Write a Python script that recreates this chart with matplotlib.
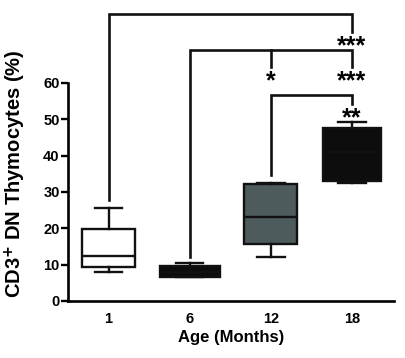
import matplotlib
matplotlib.use("Agg")
import matplotlib.pyplot as plt

plt.rcParams['font.family'] = ['Liberation Sans', 'DejaVu Sans']
plt.rcParams['font.weight'] = 'bold'

# data (box stats per age group)
ages = ["1", "6", "12", "18"]
whisker_low = [8.1, 6.5, 12.2, 32.5]
q1 = [9.4, 6.7, 15.7, 33.0]
medians = [12.4, 8.0, 23.0, 41.0]
q3 = [19.7, 9.7, 32.2, 47.5]
whisker_high = [25.7, 10.4, 32.6, 49.3]
box_colors = ["white", "#0d0d0d", "#4e5b5d", "#0d0d0d"]

# significance brackets: left group, right group, left leg start, top, right leg end, label
br_left = [0, 1, 2]
br_right = [3, 3, 3]
br_start = [27.8, 12.2, 34.6]
br_top = [79.1, 69.2, 56.8]
br_end = [74.0, 64.4, 54.3]
br_labels = ["***", "***", "**"]
# extra tick on the 6-vs-18 bracket, at 12 months
mid_group = 2
mid_label = "*"

fig = plt.figure(figsize=(4.05, 3.58), dpi=100)
ax = fig.add_axes([68/405, 57/358, 326/405, 298/358])

stats = []
for i in range(len(ages)):
    stats.append(dict(whislo=whisker_low[i], q1=q1[i], med=medians[i],
                      q3=q3[i], whishi=whisker_high[i], label=ages[i]))

lw = 1.7
bp = ax.bxp(stats, positions=range(len(ages)), widths=[0.66, 0.74, 0.66, 0.72],
            capwidths=0.34, patch_artist=True, showfliers=False,
            boxprops=dict(linewidth=lw, edgecolor="#111111"),
            whiskerprops=dict(linewidth=lw, color="#111111"),
            capprops=dict(linewidth=lw, color="#111111"),
            medianprops=dict(linewidth=lw, color="#111111"))
for patch, c in zip(bp['boxes'], box_colors):
    patch.set_facecolor(c)

blw = 1.9
star_fs = 18
for l, r, s, t, e, lab in zip(br_left, br_right, br_start, br_top, br_end, br_labels):
    ax.plot([l, l, r, r], [s, t, t, e], color="#111111", lw=blw,
            solid_joinstyle='miter', clip_on=False)
    ax.text(r, e - 0.6, lab, ha='center', va='top', fontsize=star_fs, fontweight='bold')
ax.plot([mid_group, mid_group], [br_top[1], br_end[1]], color="#111111", lw=blw, clip_on=False)
ax.text(mid_group, br_end[1] - 0.6, mid_label, ha='center', va='top', fontsize=star_fs, fontweight='bold')

ax.set_xlim(-0.5, 3.52)
ax.set_ylim(0, 82)
ax.set_yticks(range(0, 61, 10))
ax.spines['left'].set_bounds(0, 60)
ax.spines['top'].set_visible(False)
ax.spines['right'].set_visible(False)
for s in ['left', 'bottom']:
    ax.spines[s].set_linewidth(1.9)
ax.tick_params(axis='y', length=5, width=1.7, pad=1, labelsize=10.5)
ax.tick_params(axis='x', length=0, pad=8, labelsize=10.5)

ax.set_xlabel("Age (Months)", fontsize=12, fontweight='bold', labelpad=3)
ax.set_ylabel("CD3$^{\\mathbf{+}}$ DN Thymocytes (%)", fontsize=14.5, fontweight='bold')
ax.yaxis.set_label_coords(-0.122, 0.426)

fig.savefig("out.png", dpi=100)
